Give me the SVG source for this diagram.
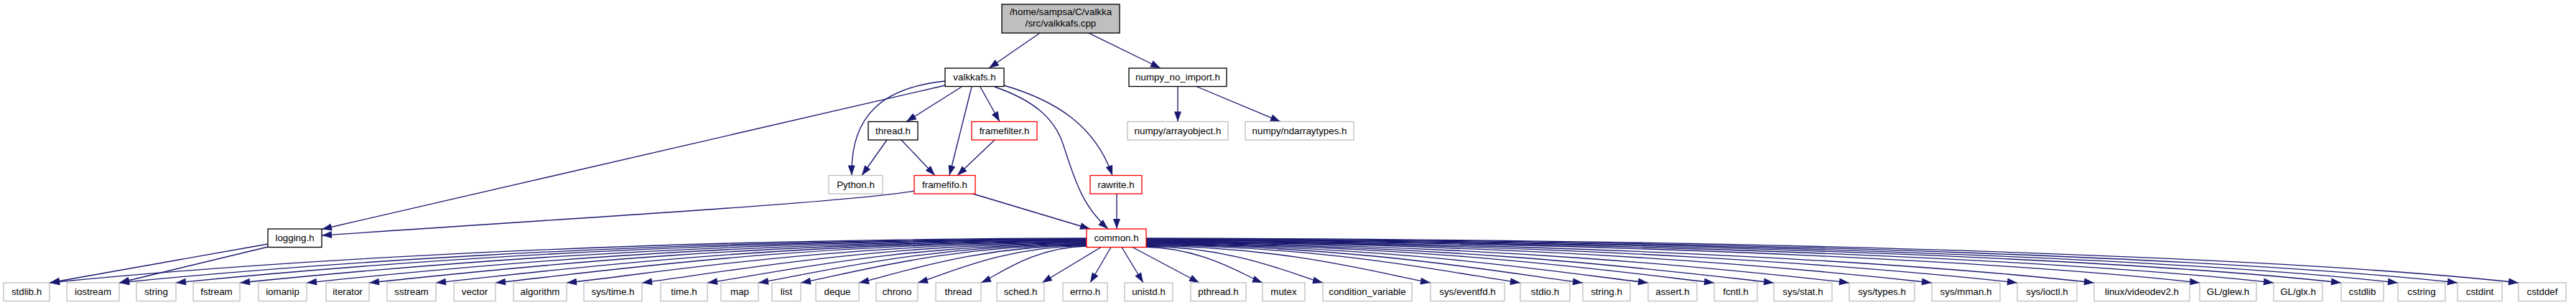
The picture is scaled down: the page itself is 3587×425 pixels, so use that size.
<svg xmlns="http://www.w3.org/2000/svg" width="3587" height="425" viewBox="0 0 3587 425">
<style>
.e{fill:none;stroke:#191970;stroke-width:1.33;marker-end:url(#ah)}
.n rect{fill:#fff;stroke-width:1.33}
.b rect{stroke:#000}
.r rect{stroke:#ff0000}
.g rect{stroke:#bfbfbf}
text{font-family:"Liberation Sans",Arial,Helvetica,sans-serif;font-size:13.33px;text-anchor:middle;fill:#000}
</style>
<defs>
<marker id="ah" markerUnits="userSpaceOnUse" markerWidth="16" markerHeight="12" refX="14" refY="5" orient="auto" overflow="visible">
<path d="M0,0 L14,5 L0,10 z" fill="#191970"/>
</marker>
</defs>
<rect x="0" y="0" width="3587" height="425" fill="#fff"/>
<g id="edges">
<path class="e" d="M1448,46 L1377,95"/>
<path class="e" d="M1516,46 L1616,95"/>
<path class="e" d="M1316,119 L448,319.5"/>
<path class="e" d="M1316,113 C1230,122 1184,160 1186,244.5"/>
<path class="e" d="M1339,121 L1262,169.5"/>
<path class="e" d="M1353,121 L1322,244.5"/>
<path class="e" d="M1365,121 L1392,169.5"/>
<path class="e" d="M1385,121 C1440,140 1468,165 1480,200 C1495,245 1505,285 1543,319"/>
<path class="e" d="M1398,119 C1470,140 1525,175 1549,244.5"/>
<path class="e" d="M1235,195 L1200,244.5"/>
<path class="e" d="M1255,195 L1302,244.5"/>
<path class="e" d="M1385,195 L1333,244.5"/>
<path class="e" d="M1274,266 C1180,282 800,304 448,328"/>
<path class="e" d="M1353,269.5 L1518,319"/>
<path class="e" d="M1555,270 L1555,319"/>
<path class="e" d="M373,340 L69,394"/>
<path class="e" d="M373,344 L166,394"/>
<path class="e" d="M1640,120.5 L1640,169.5"/>
<path class="e" d="M1666,120.5 L1783,169.5"/>
<path class="e" d="M1513,332 C791,333.2 285.6,372.3 69,394"/>
<path class="e" d="M1513,332.7 C839.5,333.9 368,373.8 166,394"/>
<path class="e" d="M1513,333.5 C879,334.7 435.2,375 245,394"/>
<path class="e" d="M1513,334.2 C923.5,335.4 510.9,376.3 334,394"/>
<path class="e" d="M1513,334.9 C970,336.1 589.9,377.7 427,394"/>
<path class="e" d="M1513,335.7 C1013.5,336.9 663.9,379 514,394"/>
<path class="e" d="M1513,336.4 C1060,337.6 742.9,380.4 607,394"/>
<path class="e" d="M1513,337.1 C1101.5,338.2 813.5,381.7 690,394"/>
<path class="e" d="M1513,337.9 C1151,339 897.6,383.1 789,394"/>
<path class="e" d="M1513,338.6 C1203.5,339.7 986.9,383.2 894,394"/>
<path class="e" d="M1513,339.3 C1249,340.4 1064.2,383.3 985,394"/>
<path class="e" d="M1513,340.1 C1284.5,341.2 1124.6,383.5 1056,394"/>
<path class="e" d="M1513,340.8 C1314,341.9 1174.7,383.6 1115,394"/>
<path class="e" d="M1513,341.5 C1354.5,342.6 1243.6,383.8 1196,394"/>
<path class="e" d="M1513,342.3 C1395.5,343.3 1313.3,383.9 1278,394"/>
<path class="e" d="M1513,343 C1439.5,344 1388,384.1 1366,394"/>
<path class="e" d="M1533,344.5 L1451,394"/>
<path class="e" d="M1547,344.5 L1518,394"/>
<path class="e" d="M1562,344.5 L1592,394"/>
<path class="e" d="M1577,344.5 L1670,394"/>
<path class="e" d="M1593,344 C1675.5,345 1733.3,384.2 1758,394"/>
<path class="e" d="M1596,343 C1719,344 1805.1,384 1842,394"/>
<path class="e" d="M1596,342.3 C1794,343.3 1932.6,383.9 1992,394"/>
<path class="e" d="M1596,341.6 C1856.5,342.6 2038.8,383.8 2117,394"/>
<path class="e" d="M1596,340.9 C1900,342 2112.8,383.6 2204,394"/>
<path class="e" d="M1596,340.3 C1945.5,341.4 2190.1,382.5 2295,394"/>
<path class="e" d="M1596,339.6 C1991.5,340.7 2268.3,380.9 2387,394"/>
<path class="e" d="M1596,338.9 C2033,340 2338.9,379.6 2470,394"/>
<path class="e" d="M1596,338.2 C2085.5,339.3 2428.1,377.8 2575,394"/>
<path class="e" d="M1596,337.5 C2143,338.6 2525.9,375.9 2690,394"/>
<path class="e" d="M1596,336.8 C2202.5,338 2627,374 2809,394"/>
<path class="e" d="M1596,336.1 C2256,337.3 2718,372.2 2916,394"/>
<path class="e" d="M1596,335.4 C2329.5,336.6 2843,369.8 3063,394"/>
<path class="e" d="M1596,334.8 C2381,336 2930.5,368.1 3166,394"/>
<path class="e" d="M1596,334.1 C2428,335.3 3010.4,366.5 3260,394"/>
<path class="e" d="M1596,333.4 C2467.5,334.6 3077.5,365.2 3339,394"/>
<path class="e" d="M1596,332.7 C2509,333.9 3148.1,363.9 3422,394"/>
<path class="e" d="M1596,332 C2551.5,333.2 3220.3,362.5 3507,394"/>
</g>
<g id="node-root" class="n b"><rect x="1395" y="6" width="164" height="40" style="fill:#bfbfbf"/><text x="1477" y="21">/home/sampsa/C/valkka</text><text x="1477" y="36.5">/src/valkkafs.cpp</text></g>
<g id="node-valkkafs_h" class="n b"><rect x="1316" y="95" width="82" height="25.5"/><text x="1357" y="112">valkkafs.h</text></g>
<g id="node-numpy_no_import_h" class="n b"><rect x="1572" y="95" width="136" height="25.5"/><text x="1640" y="112">numpy_no_import.h</text></g>
<g id="node-thread_h" class="n b"><rect x="1209" y="169.5" width="69" height="25.5"/><text x="1243.5" y="186.5">thread.h</text></g>
<g id="node-framefilter_h" class="n r"><rect x="1353" y="169.5" width="91" height="25.5"/><text x="1398.5" y="186.5">framefilter.h</text></g>
<g id="node-numpy_arrayobject_h" class="n g"><rect x="1570" y="169.5" width="140" height="25.5"/><text x="1640" y="186.5">numpy/arrayobject.h</text></g>
<g id="node-numpy_ndarraytypes_h" class="n g"><rect x="1734" y="169.5" width="151" height="25.5"/><text x="1809.5" y="186.5">numpy/ndarraytypes.h</text></g>
<g id="node-Python_h" class="n g"><rect x="1154" y="244.5" width="75" height="25.5"/><text x="1191.5" y="261.5">Python.h</text></g>
<g id="node-framefifo_h" class="n r"><rect x="1273" y="244.5" width="85" height="25.5"/><text x="1315.5" y="261.5">framefifo.h</text></g>
<g id="node-rawrite_h" class="n r"><rect x="1518" y="244.5" width="72" height="25.5"/><text x="1554" y="261.5">rawrite.h</text></g>
<g id="node-logging_h" class="n b"><rect x="373" y="319" width="75" height="25.5"/><text x="410.5" y="336">logging.h</text></g>
<g id="node-common_h" class="n r"><rect x="1513" y="319" width="83" height="25.5"/><text x="1554.5" y="336">common.h</text></g>
<g id="node-stdlib_h" class="n g"><rect x="5" y="394" width="64" height="25.5"/><text x="37" y="411">stdlib.h</text></g>
<g id="node-iostream" class="n g"><rect x="93" y="394" width="73" height="25.5"/><text x="129.5" y="411">iostream</text></g>
<g id="node-string" class="n g"><rect x="190" y="394" width="55" height="25.5"/><text x="217.5" y="411">string</text></g>
<g id="node-fstream" class="n g"><rect x="269" y="394" width="65" height="25.5"/><text x="301.5" y="411">fstream</text></g>
<g id="node-iomanip" class="n g"><rect x="360" y="394" width="67" height="25.5"/><text x="393.5" y="411">iomanip</text></g>
<g id="node-iterator" class="n g"><rect x="454" y="394" width="60" height="25.5"/><text x="484" y="411">iterator</text></g>
<g id="node-sstream" class="n g"><rect x="539" y="394" width="68" height="25.5"/><text x="573" y="411">sstream</text></g>
<g id="node-vector" class="n g"><rect x="632" y="394" width="58" height="25.5"/><text x="661" y="411">vector</text></g>
<g id="node-algorithm" class="n g"><rect x="715" y="394" width="74" height="25.5"/><text x="752" y="411">algorithm</text></g>
<g id="node-sys_time_h" class="n g"><rect x="813" y="394" width="81" height="25.5"/><text x="853.5" y="411">sys/time.h</text></g>
<g id="node-time_h" class="n g"><rect x="920" y="394" width="65" height="25.5"/><text x="952.5" y="411">time.h</text></g>
<g id="node-map" class="n g"><rect x="1004" y="394" width="52" height="25.5"/><text x="1030" y="411">map</text></g>
<g id="node-list" class="n g"><rect x="1075" y="394" width="40" height="25.5"/><text x="1095" y="411">list</text></g>
<g id="node-deque" class="n g"><rect x="1136" y="394" width="60" height="25.5"/><text x="1166" y="411">deque</text></g>
<g id="node-chrono" class="n g"><rect x="1220" y="394" width="58" height="25.5"/><text x="1249" y="411">chrono</text></g>
<g id="node-thread" class="n g"><rect x="1303" y="394" width="63" height="25.5"/><text x="1334.5" y="411">thread</text></g>
<g id="node-sched_h" class="n g"><rect x="1388" y="394" width="66" height="25.5"/><text x="1421" y="411">sched.h</text></g>
<g id="node-errno_h" class="n g"><rect x="1480" y="394" width="62" height="25.5"/><text x="1511" y="411">errno.h</text></g>
<g id="node-unistd_h" class="n g"><rect x="1566" y="394" width="67" height="25.5"/><text x="1599.5" y="411">unistd.h</text></g>
<g id="node-pthread_h" class="n g"><rect x="1658" y="394" width="77" height="25.5"/><text x="1696.5" y="411">pthread.h</text></g>
<g id="node-mutex" class="n g"><rect x="1758" y="394" width="59" height="25.5"/><text x="1787.5" y="411">mutex</text></g>
<g id="node-condition_variable" class="n g"><rect x="1842" y="394" width="124" height="25.5"/><text x="1904" y="411">condition_variable</text></g>
<g id="node-sys_eventfd_h" class="n g"><rect x="1992" y="394" width="103" height="25.5"/><text x="2043.5" y="411">sys/eventfd.h</text></g>
<g id="node-stdio_h" class="n g"><rect x="2117" y="394" width="69" height="25.5"/><text x="2151.5" y="411">stdio.h</text></g>
<g id="node-string_h" class="n g"><rect x="2204" y="394" width="66" height="25.5"/><text x="2237" y="411">string.h</text></g>
<g id="node-assert_h" class="n g"><rect x="2295" y="394" width="68" height="25.5"/><text x="2329" y="411">assert.h</text></g>
<g id="node-fcntl_h" class="n g"><rect x="2387" y="394" width="60" height="25.5"/><text x="2417" y="411">fcntl.h</text></g>
<g id="node-sys_stat_h" class="n g"><rect x="2470" y="394" width="81" height="25.5"/><text x="2510.5" y="411">sys/stat.h</text></g>
<g id="node-sys_types_h" class="n g"><rect x="2575" y="394" width="91" height="25.5"/><text x="2620.5" y="411">sys/types.h</text></g>
<g id="node-sys_mman_h" class="n g"><rect x="2690" y="394" width="95" height="25.5"/><text x="2737.5" y="411">sys/mman.h</text></g>
<g id="node-sys_ioctl_h" class="n g"><rect x="2809" y="394" width="83" height="25.5"/><text x="2850.5" y="411">sys/ioctl.h</text></g>
<g id="node-linux_videodev2_h" class="n g"><rect x="2916" y="394" width="133" height="25.5"/><text x="2982.5" y="411">linux/videodev2.h</text></g>
<g id="node-GL_glew_h" class="n g"><rect x="3063" y="394" width="79" height="25.5"/><text x="3102.5" y="411">GL/glew.h</text></g>
<g id="node-GL_glx_h" class="n g"><rect x="3166" y="394" width="68" height="25.5"/><text x="3200" y="411">GL/glx.h</text></g>
<g id="node-cstdlib" class="n g"><rect x="3260" y="394" width="59" height="25.5"/><text x="3289.5" y="411">cstdlib</text></g>
<g id="node-cstring" class="n g"><rect x="3339" y="394" width="66" height="25.5"/><text x="3372" y="411">cstring</text></g>
<g id="node-cstdint" class="n g"><rect x="3422" y="394" width="62" height="25.5"/><text x="3453" y="411">cstdint</text></g>
<g id="node-cstddef" class="n g"><rect x="3507" y="394" width="66" height="25.5"/><text x="3540" y="411">cstddef</text></g>
</svg>
